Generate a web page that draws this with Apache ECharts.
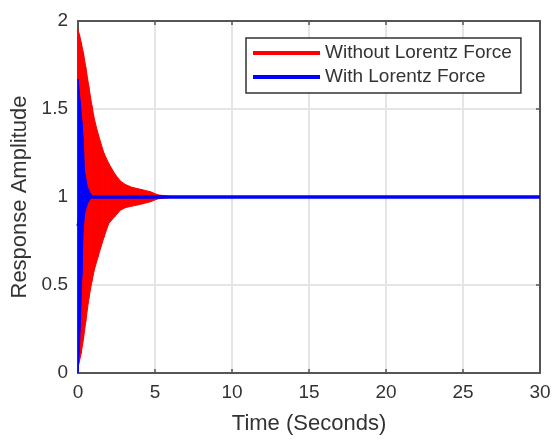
<!DOCTYPE html>
<html>
<head>
<meta charset="utf-8">
<script src="https://cdn.jsdelivr.net/npm/echarts@6/dist/echarts.min.js"></script>
<style>
  html, body { margin: 0; padding: 0; background: #fff; }
  #chart { width: 554px; height: 444px; }
</style>
</head>
<body>
<div id="chart"></div>
<script>
// envelopes (time in s, amplitude)
var redT     = [0, 0.1, 0.2, 0.35, 0.5, 0.7, 0.9, 1.07, 1.3, 1.68, 2.0, 2.4, 2.76, 3.1, 3.5, 4.0, 4.7, 5.2, 6.0, 7.0, 8.0, 30];
var redUpper = [1.95, 1.92, 1.88, 1.82, 1.74, 1.63, 1.52, 1.44, 1.36, 1.25, 1.19, 1.13, 1.09, 1.07, 1.055, 1.045, 1.03, 1.012, 1.003, 1.001, 1.0, 1.0];
var redLower = [0.03, 0.07, 0.11, 0.19, 0.29, 0.42, 0.52, 0.59, 0.66, 0.77, 0.85, 0.89, 0.926, 0.94, 0.948, 0.957, 0.973, 0.99, 0.997, 0.999, 1.0, 1.0];

var blueT     = [0, 0.08, 0.16, 0.25, 0.33, 0.42, 0.6, 0.8, 1.0, 30];
var blueUpper = [1.67, 1.6, 1.53, 1.43, 1.34, 1.15, 1.06, 1.02, 1.0, 1.0];
var blueLower = [0.0, 0.12, 0.3, 0.55, 0.8, 0.9, 0.96, 0.99, 1.0, 1.0];

var xTicks = { min: 0, max: 30, interval: 5 };
var yTicks = { min: 0, max: 2, interval: 0.5 };

var names = ['Without Lorentz Force', 'With Lorentz Force'];
var txt = '#333';
var axisCol = '#555';
var font = 'Liberation Sans, Arial, sans-serif';

function band(t, lo, up, color, z) {
    return {
        type: 'custom',
        name: 'band' + z,
        z: z,
        silent: true,
        data: t.slice(0, -1).map(function (x, i) {
            return [x, lo[i], up[i], t[i + 1], lo[i + 1], up[i + 1]];
        }),
        encode: { x: [0, 3], y: [1, 2, 4, 5] },
        renderItem: function (params, api) {
            var a = api.coord([api.value(0), api.value(2)]);
            var b = api.coord([api.value(3), api.value(5)]);
            var c = api.coord([api.value(3), api.value(4)]);
            var d = api.coord([api.value(0), api.value(1)]);
            return {
                type: 'polygon',
                shape: { points: [a, b, c, d] },
                style: { fill: color, stroke: color, lineWidth: 1 }
            };
        }
    };
}

function mid(t, lo, up) {
    return t.map(function (x, i) { return [x, (lo[i] + up[i]) / 2]; });
}

function frameAxis(extra) {
    var ax = {
        type: 'value',
        axisLine: { show: true, onZero: false, lineStyle: { color: axisCol, width: 2 } },
        axisTick: { show: true, inside: true, length: 4, lineStyle: { color: axisCol, width: 1.5 } },
        axisLabel: { show: false },
        splitLine: { show: false }
    };
    for (var k in extra) ax[k] = extra[k];
    return ax;
}

var chart = echarts.init(document.getElementById('chart'));
chart.setOption({
    animation: false,
    backgroundColor: '#fff',
    textStyle: { fontFamily: font },
    grid: { left: 78, right: 14, top: 21, bottom: 71 },
    legend: {
        data: names,
        orient: 'vertical',
        left: 246,
        top: 38,
        padding: [5, 9, 6, 7],
        itemGap: 4,
        icon: 'rect',
        itemWidth: 67,
        itemHeight: 4,
        backgroundColor: '#fff',
        borderColor: '#333',
        borderWidth: 1.5,
        textStyle: { color: txt, fontSize: 19, lineHeight: 20, fontFamily: font }
    },
    xAxis: [
        frameAxis({
            min: xTicks.min, max: xTicks.max, interval: xTicks.interval,
            name: 'Time (Seconds)',
            nameLocation: 'middle',
            nameGap: 40,
            nameTextStyle: { color: txt, fontSize: 22, fontFamily: font },
            axisLabel: { color: txt, fontSize: 19, margin: 10, fontFamily: font },
            splitLine: { show: true, lineStyle: { color: '#e5e5e5', width: 2 } }
        }),
        frameAxis({ position: 'top', min: xTicks.min, max: xTicks.max, interval: xTicks.interval })
    ],
    yAxis: [
        frameAxis({
            min: yTicks.min, max: yTicks.max, interval: yTicks.interval,
            name: 'Response Amplitude',
            nameLocation: 'middle',
            nameGap: 44,
            nameTextStyle: { color: txt, fontSize: 22, fontFamily: font },
            axisLabel: { color: txt, fontSize: 19, margin: 10, fontFamily: font },
            splitLine: { show: true, lineStyle: { color: '#e5e5e5', width: 2 } }
        }),
        frameAxis({ position: 'right', min: yTicks.min, max: yTicks.max, interval: yTicks.interval })
    ],
    series: [
        band(redT, redLower, redUpper, '#ff0000', 2),
        {
            name: names[0], type: 'line', z: 3, showSymbol: false, silent: true,
            color: '#ff0000',
            lineStyle: { width: 2 },
            data: mid(redT, redLower, redUpper)
        },
        band(blueT, blueLower, blueUpper, '#0000ff', 4),
        {
            name: names[1], type: 'line', z: 5, showSymbol: false, silent: true,
            color: '#0000ff',
            lineStyle: { width: 3.5 },
            data: mid(blueT, blueLower, blueUpper)
        }
    ]
});
</script>
</body>
</html>
